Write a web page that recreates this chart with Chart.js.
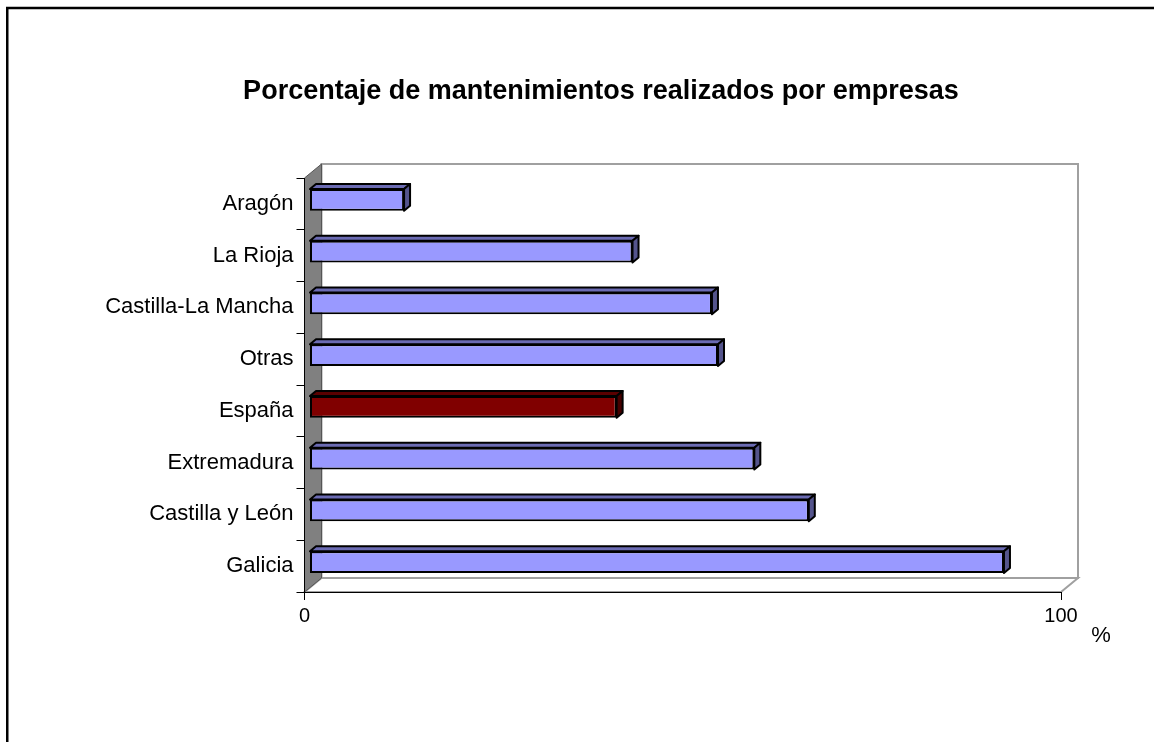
<!DOCTYPE html>
<html>
<head>
<meta charset="utf-8">
<script src="https://cdn.jsdelivr.net/npm/chart.js@4"></script>
<style>
  html, body { margin: 0; padding: 0; background: #fff; overflow: hidden; }
  #wrap { width: 1154px; height: 742px; }
</style>
</head>
<body>
<div id="wrap"><canvas id="chart_Mantenimientos"></canvas></div>
<script>
const categories = ['Aragón', 'La Rioja', 'Castilla-La Mancha', 'Otras', 'España', 'Extremadura', 'Castilla y León', 'Galicia'];
const values = [12.5, 42.7, 53.2, 54.0, 40.6, 58.8, 66.0, 91.8];
const xTicks = [0, 100];
const highlight = 'España';

const FONT = "'Liberation Sans', Arial, sans-serif";
const DX = 17, DY = -14;   // depth of the walls
const BX = 5, BY = -4;     // bars sit a bit behind the front plane
const BDX = 6, BDY = -5;   // depth of each bar

function shade(hex, f) {
  const n = parseInt(hex.slice(1), 16);
  const r = Math.round(((n >> 16) & 255) * f);
  const g = Math.round(((n >> 8) & 255) * f);
  const b = Math.round((n & 255) * f);
  return 'rgb(' + r + ',' + g + ',' + b + ')';
}

const barColors = categories.map(c => c === highlight ? '#800000' : '#9999FF');

function poly(ctx, pts) {
  ctx.beginPath();
  ctx.moveTo(pts[0][0], pts[0][1]);
  for (let i = 1; i < pts.length; i++) ctx.lineTo(pts[i][0], pts[i][1]);
  ctx.closePath();
}

const box3d = {
  id: 'box3d',
  afterLayout(chart) {
    // let the long category names reach past the axis box (no clipping)
    chart.scales.y.left = 0;
  },
  beforeDraw(chart) {
    const ctx = chart.ctx, a = chart.chartArea;
    ctx.save();
    // outer frame
    ctx.strokeStyle = '#000';
    ctx.lineWidth = 2.5;
    ctx.strokeRect(7.25, 8, 1300, 900);

    // back wall
    ctx.fillStyle = '#fff';
    ctx.fillRect(a.left + DX, a.top + DY, a.right - a.left, a.bottom - a.top);
    ctx.strokeStyle = '#a0a0a0';
    ctx.lineWidth = 2;
    ctx.strokeRect(a.left + DX, a.top + DY, a.right - a.left, a.bottom - a.top);

    // floor
    poly(ctx, [[a.left, a.bottom], [a.left + DX, a.bottom + DY], [a.right + DX, a.bottom + DY], [a.right, a.bottom]]);
    ctx.fillStyle = '#fff';
    ctx.fill();
    ctx.strokeStyle = '#a0a0a0';
    ctx.stroke();

    // side wall
    poly(ctx, [[a.left, a.top], [a.left + DX, a.top + DY], [a.left + DX, a.bottom + DY], [a.left, a.bottom]]);
    ctx.fillStyle = '#808080';
    ctx.fill();
    ctx.strokeStyle = '#555';
    ctx.lineWidth = 1;
    ctx.stroke();
    ctx.restore();
  },
  beforeDatasetsDraw(chart) {
    chart.ctx.save();
    chart.ctx.translate(BX, BY);
  },
  afterDatasetsDraw(chart) {
    const ctx = chart.ctx;
    const meta = chart.getDatasetMeta(0);
    ctx.lineWidth = 2;
    ctx.strokeStyle = '#000';
    ctx.lineJoin = 'round';
    meta.data.forEach((bar, i) => {
      const p = bar.getProps(['x', 'y', 'base', 'height'], true);
      const t = p.y - p.height / 2, b = p.y + p.height / 2;
      poly(ctx, [[p.base, t], [p.x, t], [p.x + BDX, t + BDY], [p.base + BDX, t + BDY]]);
      ctx.fillStyle = shade(barColors[i], 0.7);
      ctx.fill();
      ctx.stroke();
      poly(ctx, [[p.x, t], [p.x + BDX, t + BDY], [p.x + BDX, b + BDY], [p.x, b]]);
      ctx.fillStyle = shade(barColors[i], 0.55);
      ctx.fill();
      ctx.stroke();
    });
    ctx.restore();
  },
  afterDraw(chart) {
    const ctx = chart.ctx;
    ctx.save();
    ctx.font = '22px ' + FONT;
    ctx.fillStyle = '#000';
    ctx.textAlign = 'center';
    ctx.textBaseline = 'middle';
    ctx.fillText('%', 1101, 636);
    ctx.restore();
  }
};

const ctx = document.getElementById('chart_Mantenimientos');

new Chart(ctx, {
  type: 'bar',
  data: {
    labels: categories,
    datasets: [
      {
        label: '%',
        data: values,
        backgroundColor: barColors,
        borderColor: '#000',
        borderWidth: 2,
        borderSkipped: false,
        categoryPercentage: 1.0,
        barPercentage: 0.42,
        clip: false,
      }
    ]
  },
  options: {
    indexAxis: 'y',
    responsive: true,
    maintainAspectRatio: false,
    animation: false,
    layout: {
      padding: { left: 141, right: 93, top: 0, bottom: 0 }
    },
    scales: {
      x: {
        type: 'linear',
        min: xTicks[0],
        max: xTicks[xTicks.length - 1],
        afterBuildTicks(scale) {
          scale.ticks = xTicks.map(v => ({ value: v }));
        },
        afterFit(scale) { scale.height = 150; },
        grid: {
          drawOnChartArea: false,
          drawTicks: true,
          tickLength: 8,
          color: '#000',
        },
        border: { display: true, color: '#000', width: 1 },
        ticks: {
          color: '#000',
          padding: 4,
          font: { family: FONT, size: 20 },
        },
      },
      y: {
        type: 'category',
        afterFit(scale) { scale.width = 304.5 - 141; },
        grid: {
          offset: true,
          drawOnChartArea: false,
          drawTicks: true,
          tickLength: 8,
          color: '#000',
        },
        border: { display: true, color: '#000', width: 1 },
        ticks: {
          color: '#000',
          padding: 3,
          autoSkip: false,
          font: { family: FONT, size: 22 },
        },
      }
    },
    plugins: {
      legend: { display: false },
      tooltip: { enabled: false },
      title: {
        display: true,
        text: 'Porcentaje de mantenimientos realizados por empresas',
        color: '#000',
        font: { family: FONT, size: 27, weight: 'bold' },
        padding: { top: 75, bottom: 70.6 },
      }
    }
  },
  plugins: [box3d]
});
</script>
</body>
</html>
